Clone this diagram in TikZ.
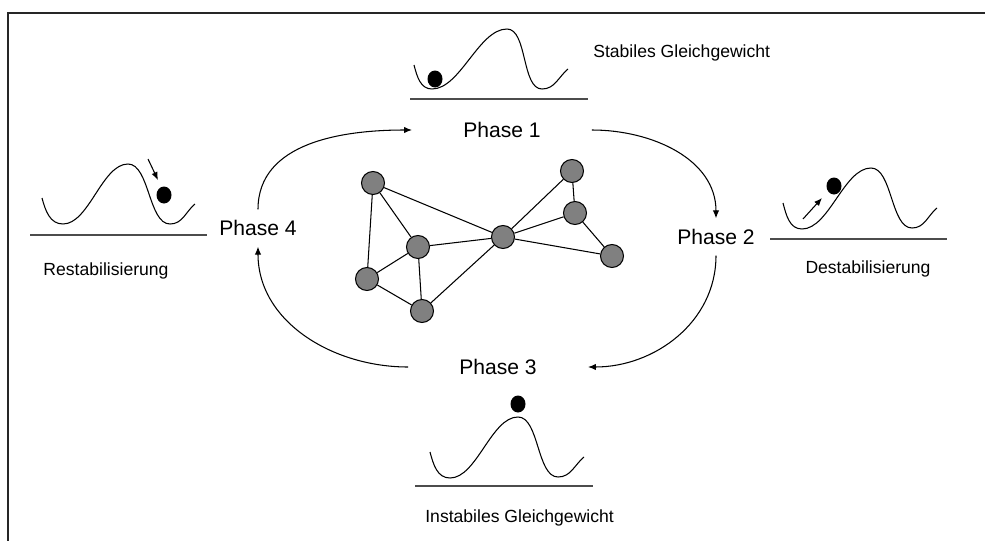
\documentclass[tikz,border=0pt]{standalone}
\usepackage{fontspec}
\setmainfont{Liberation Sans}
\usetikzlibrary{arrows.meta, positioning}

\begin{document}
\begin{tikzpicture}[
  x=0.02cm, y=0.02cm,
  phase/.style={
    font=\fontsize{12}{14}\selectfont,
    inner xsep=29pt, inner ysep=6pt
  },
  caption/.style={
    font=\fontsize{10}{12}\selectfont,
    inner sep=0pt
  },
  vertex/.style={
    circle, draw=black, fill=black!50,
    minimum size=0.46cm, inner sep=0pt,
    line width=0.6pt
  },
  link/.style={line width=0.6pt},
  arr/.style={-{Latex[length=4.5pt, width=3.6pt]}, line width=0.6pt},
  well/.style={line width=0.6pt},
  slope/.style={out=0, in=180, looseness=0.75},
  ground/.style={line width=0.6pt, black!70},
  ball/.style={fill=black},
]

\useasboundingbox (0,0) rectangle (985,-541);
\draw[line width=1.1pt, black!85] (985,-13) -- (8,-13) -- (8,-541);

%% ═══ PHASEN ═══
\node[phase] (ph1) at (502,-130) {Phase 1};
\node[phase] (ph2) at (716,-237) {Phase 2};
\node[phase] (ph3) at (498,-367) {Phase 3};
\node[phase] (ph4) at (258,-228) {Phase 4};

\draw[arr] (ph4.north) to[out=90, in=180] (ph1.west);
\draw[arr] (ph1.east) to[out=0, in=90] (ph2.north);
\draw[arr] (ph2.south) to[out=-90, in=0] (ph3.east);
\draw[arr] (ph3.west) to[out=180, in=-90] (ph4.south);

%% ═══ NETZWERK ═══
\node[vertex] (v1) at (373,-183) {};
\node[vertex] (v2) at (418,-247) {};
\node[vertex] (v3) at (367,-279) {};
\node[vertex] (v4) at (422,-311) {};
\node[vertex] (v5) at (503,-237) {};
\node[vertex] (v6) at (572,-171) {};
\node[vertex] (v7) at (575,-213) {};
\node[vertex] (v8) at (612,-256) {};

\draw[link] (v1) -- (v2);
\draw[link] (v1) -- (v3);
\draw[link] (v1) -- (v5);
\draw[link] (v2) -- (v3);
\draw[link] (v2) -- (v4);
\draw[link] (v2) -- (v5);
\draw[link] (v3) -- (v4);
\draw[link] (v4) -- (v5);
\draw[link] (v5) -- (v6);
\draw[link] (v5) -- (v7);
\draw[link] (v5) -- (v8);
\draw[link] (v6) -- (v7);
\draw[link] (v7) -- (v8);

%% ═══ STABILES GLEICHGEWICHT ═══
\draw[well] (414,-65) to[out=-75, in=180] (432,-89) to[slope] (507,-29)
  to[slope] (542,-89) to[out=0, in=-140] (568,-69);
\draw[ground] (410,-99) -- (588,-99);
\fill[ball] (435,-79) ellipse [x radius=7.5, y radius=8.5];
\node[caption, anchor=west] (stab) at (593,-53) {Stabiles Gleichgewicht};

%% ═══ DESTABILISIERUNG ═══
\draw[well] (783,-203) to[out=-75, in=180] (802,-229) to[slope] (871,-168)
  to[slope] (912,-228) to[out=0, in=-140] (937,-208);
\draw[ground] (770,-239) -- (947,-239);
\fill[ball] (834,-186) ellipse [x radius=7.5, y radius=8.5];
\draw[arr] (803,-219) -- (822,-198);
\node[caption] (destab) at (868,-269) {Destabilisierung};

%% ═══ INSTABILES GLEICHGEWICHT ═══
\draw[well] (430,-452) to[out=-75, in=180] (450,-478) to[slope] (518,-417)
  to[slope] (558,-477) to[out=0, in=-140] (584,-457);
\draw[ground] (415,-486) -- (593,-486);
\fill[ball] (518,-404) ellipse [x radius=7.5, y radius=8.5];
\node[caption, anchor=west] (instab) at (425,-518) {Instabiles Gleichgewicht};

%% ═══ RESTABILISIERUNG ═══
\draw[well] (42,-198) to[out=-75, in=180] (63,-224) to[slope] (128,-164)
  to[slope] (170,-224) to[out=0, in=-140] (195,-204);
\draw[ground] (30,-235) -- (207,-235);
\fill[ball] (164,-195) ellipse [x radius=7.5, y radius=8.5];
\draw[arr] (148,-159) -- (158,-180);
\node[caption] (restab) at (106,-271) {Restabilisierung};

\end{tikzpicture}
\end{document}
